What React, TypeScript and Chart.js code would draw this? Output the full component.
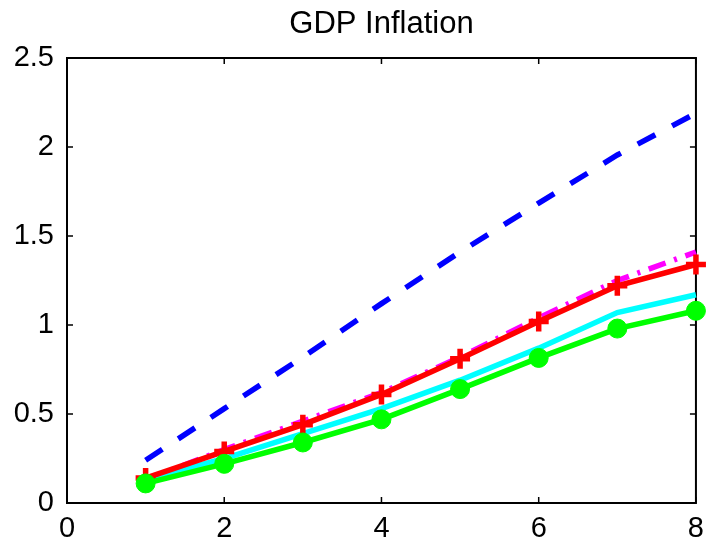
import React, { useEffect, useRef } from 'react';
import { Chart, registerables } from 'chart.js';

Chart.register(...registerables);

const horizons = [1, 2, 3, 4, 5, 6, 7, 8];
const blueDashed = [0.24, 0.53, 0.82, 1.12, 1.41, 1.685, 1.955, 2.19];
const magentaDashDot = [0.13, 0.3, 0.46, 0.62, 0.82, 1.04, 1.25, 1.41];
const redPlus = [0.14, 0.29, 0.44, 0.61, 0.81, 1.02, 1.22, 1.34];
const cyanSolid = [0.13, 0.25, 0.39, 0.53, 0.69, 0.87, 1.07, 1.17];
const greenCircle = [0.11, 0.22, 0.34, 0.47, 0.64, 0.815, 0.98, 1.08];
const xTicks = [0, 2, 4, 6, 8];
const yTicks = [0, 0.5, 1, 1.5, 2, 2.5];
const titleText = 'GDP Inflation';

const FONT = "'Liberation Sans', Arial, Helvetica, sans-serif";

const toPoints = (vals: number[]) => horizons.map((h, i) => ({ x: h, y: vals[i] }));

const boxPlugin = {
  id: 'matlabBox',
  beforeDatasetsDraw(chart: any) {
    const { ctx, chartArea, scales } = chart;
    const { left, right, top, bottom } = chartArea;
    const x = scales.x;
    const y = scales.y;
    ctx.save();
    ctx.strokeStyle = '#000';
    ctx.lineWidth = 2;
    ctx.strokeRect(left, top, right - left, bottom - top);
    ctx.lineWidth = 1.5;
    ctx.beginPath();
    xTicks.forEach((v) => {
      const px = x.getPixelForValue(v);
      ctx.moveTo(px, bottom);
      ctx.lineTo(px, bottom - 6);
      ctx.moveTo(px, top);
      ctx.lineTo(px, top + 6);
    });
    yTicks.forEach((v) => {
      const py = y.getPixelForValue(v);
      ctx.moveTo(left, py);
      ctx.lineTo(left + 6, py);
      ctx.moveTo(right, py);
      ctx.lineTo(right - 6, py);
    });
    ctx.stroke();
    // title centred over the axes box, as MATLAB does
    ctx.fillStyle = '#000';
    ctx.font = `31px ${FONT}`;
    ctx.textAlign = 'center';
    ctx.textBaseline = 'alphabetic';
    ctx.fillText(titleText, (left + right) / 2, top - 25);
    ctx.restore();
  },
};

export default function App() {
  const canvasRef = useRef<HTMLCanvasElement | null>(null);

  useEffect(() => {
    document.body.style.margin = '0';
    const canvas = canvasRef.current;
    if (!canvas) return;
    const chart = new Chart(canvas, {
      type: 'line',
      data: {
        datasets: [
          {
            label: 'blue',
            data: toPoints(blueDashed),
            borderColor: '#0000ff',
            borderWidth: 5.5,
            borderDash: [20, 19],
            borderCapStyle: 'butt',
            pointRadius: 0,
            order: 5,
          },
          {
            label: 'magenta',
            data: toPoints(magentaDashDot),
            borderColor: '#ff00ff',
            borderWidth: 5.5,
            borderDash: [18, 9, 3, 9],
            borderCapStyle: 'butt',
            pointRadius: 0,
            order: 4,
          },
          {
            label: 'cyan',
            data: toPoints(cyanSolid),
            borderColor: '#00ffff',
            borderWidth: 5.5,
            pointRadius: 0,
            order: 3,
          },
          {
            label: 'red',
            data: toPoints(redPlus),
            borderColor: '#ff0000',
            backgroundColor: '#ff0000',
            borderWidth: 5.5,
            pointStyle: 'cross',
            pointRadius: 10,
            pointBorderWidth: 5.5,
            pointBorderColor: '#ff0000',
            order: 2,
          },
          {
            label: 'green',
            data: toPoints(greenCircle),
            borderColor: '#00ff00',
            backgroundColor: '#00ff00',
            borderWidth: 5.5,
            pointStyle: 'circle',
            pointRadius: 9.5,
            pointBorderWidth: 1,
            pointBackgroundColor: '#00ff00',
            pointBorderColor: '#00ff00',
            order: 1,
          },
        ],
      },
      options: {
        responsive: false,
        animation: false,
        clip: false as any,
        layout: { padding: { left: 0, right: 15, top: 58, bottom: 0 } },
        plugins: {
          legend: { display: false },
          tooltip: { enabled: false },
          title: { display: false },
        },
        scales: {
          x: {
            type: 'linear',
            min: 0,
            max: 8,
            grid: { display: false, drawTicks: false },
            border: { display: false },
            ticks: {
              stepSize: 2,
              color: '#000',
              padding: 9,
              maxRotation: 0,
              font: { family: FONT, size: 29 },
              callback: (v: any) => String(v),
            },
            afterFit: (scale: any) => {
              scale.height = 45;
            },
          },
          y: {
            type: 'linear',
            min: 0,
            max: 2.5,
            grid: { display: false, drawTicks: false },
            border: { display: false },
            ticks: {
              stepSize: 0.5,
              color: '#000',
              padding: 13,
              font: { family: FONT, size: 29 },
              callback: (v: any) => String(v),
            },
            afterFit: (scale: any) => {
              scale.width = 67;
            },
          },
        },
      },
      plugins: [boxPlugin],
    });
    return () => chart.destroy();
  }, []);

  return (
    <div style={{ width: 713, height: 548, background: '#fff' }}>
      <canvas ref={canvasRef} width={713} height={548} style={{ display: 'block' }} />
    </div>
  );
}
